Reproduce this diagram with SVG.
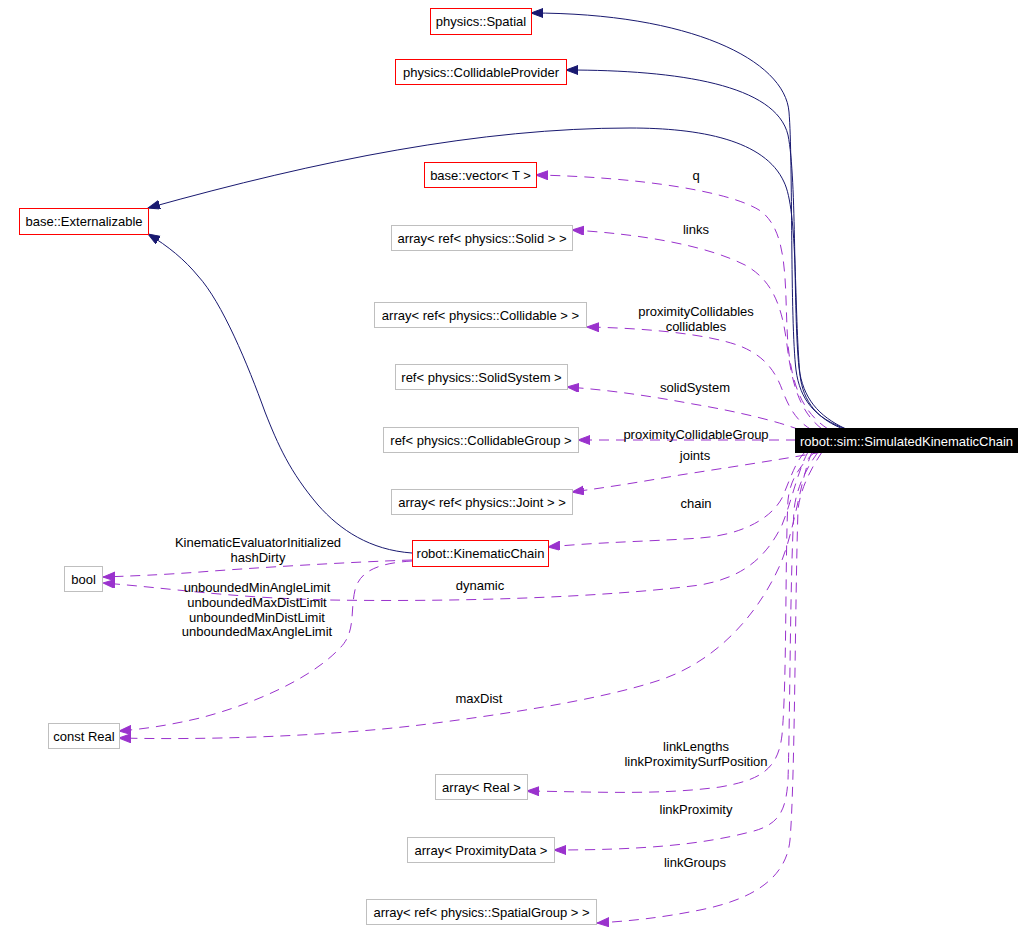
<svg xmlns="http://www.w3.org/2000/svg" width="1035" height="942" viewBox="0 0 1035 942">
<style>
text{font-family:"Liberation Sans",Arial,sans-serif;font-size:13px;fill:#000;text-anchor:middle}
.red{fill:#fff;stroke:#ff0000;stroke-width:1}
.grey{fill:#fff;stroke:#bfbfbf;stroke-width:1}
.inh{fill:none;stroke:#191970;stroke-width:1}
.use{fill:none;stroke:#9a32cd;stroke-width:1;stroke-dasharray:10,7}
</style>
<defs>
<marker id="an" markerUnits="userSpaceOnUse" markerWidth="13" markerHeight="10" refX="12" refY="4.5" orient="auto" viewBox="0 0 13 10">
<path d="M0,0 L12,4.5 L0,9 z" fill="#191970" stroke="#191970"/>
</marker>
<marker id="ap" markerUnits="userSpaceOnUse" markerWidth="13" markerHeight="10" refX="12" refY="4.5" orient="auto" viewBox="0 0 13 10">
<path d="M0,0 L12,4.5 L0,9 z" fill="#9a32cd" stroke="#9a32cd"/>
</marker>
</defs>
<rect width="1035" height="942" fill="#fff"/>
<g id="connectors">
<path class="inh" marker-end="url(#an)" d="M846,429 C815,418 800,400 796,370 C790,320 793,160 789,112 C785,60 690,13 531,13"/>
<path class="inh" marker-end="url(#an)" d="M846,429 C818,416 803,398 799,368 C793,310 797,180 788,135 C776,85 680,70 566,70"/>
<path class="inh" marker-end="url(#an)" d="M846,430 C818,420 803,402 800,375 C794,310 798,210 784,182 C765,140 700,128 630,128 C480,128 320,160 148,208"/>
<path class="inh" marker-end="url(#an)" d="M412,553 C370,550 340,530 318,505 C290,472 278,445 265,412 C248,365 222,302 198,276 C185,260 168,246 148,234"/>
<path class="use" marker-end="url(#ap)" d="M828,429 C802,412 792,385 788,345 C784,290 790,235 762,212 C735,192 640,177 536,175"/>
<path class="use" marker-end="url(#ap)" d="M822,429 C800,412 792,385 787,345 C782,305 772,280 745,265 C705,245 640,234 572,230"/>
<path class="use" marker-end="url(#ap)" d="M812,430 C796,421 789,407 783,392 C776,372 765,356 740,346 C705,333 640,328 587,327"/>
<path class="use" marker-end="url(#ap)" d="M800,430 C780,422 740,412 693,404 C650,396 610,390 567,387"/>
<path class="use" marker-end="url(#ap)" d="M796,440 L578,440"/>
<path class="use" marker-end="url(#ap)" d="M822,452 C790,458 725,468 680,475 C640,482 610,487 572,492"/>
<path class="use" marker-end="url(#ap)" d="M805,452 C795,462 790,480 782,498 C770,520 740,535 700,538 C660,541 600,542 548,547"/>
<path class="use" marker-end="url(#ap)" d="M412,560 C350,562 250,568 200,572 C160,575 130,576 103,577"/>
<path class="use" marker-end="url(#ap)" d="M808,452 C798,470 792,500 782,525 C765,560 740,578 700,585 C600,598 450,602 330,600 C230,598 170,588 103,583"/>
<path class="use" marker-end="url(#ap)" d="M412,561 C380,563 360,570 355,590 C350,612 356,632 340,648 C310,680 250,705 200,718 C170,725 145,729 119,731"/>
<path class="use" marker-end="url(#ap)" d="M812,452 C800,480 795,530 780,565 C760,610 720,660 660,680 C600,700 500,715 420,725 C320,737 200,740 119,738"/>
<path class="use" marker-end="url(#ap)" d="M815,452 C800,465 790,480 788,500 C785,560 787,680 782,735 C778,770 760,780 720,787 C660,795 600,792 527,791"/>
<path class="use" marker-end="url(#ap)" d="M818,452 C805,470 796,490 794,510 C790,580 790,720 788,780 C786,810 780,825 750,832 C700,845 640,850 554,850"/>
<path class="use" marker-end="url(#ap)" d="M822,452 C810,470 800,490 798,510 C795,600 795,780 790,840 C786,880 750,900 700,910 C660,918 630,921 597,923"/>
<text x="696" y="179.5">q</text>
<text x="696" y="234">links</text>
<text x="696" y="316">proximityCollidables</text>
<text x="696" y="331">collidables</text>
<text x="695" y="392">solidSystem</text>
<text x="696" y="439">proximityCollidableGroup</text>
<text x="695" y="460">joints</text>
<text x="696" y="508">chain</text>
<text x="258" y="547">KinematicEvaluatorInitialized</text>
<text x="258" y="562">hashDirty</text>
<text x="480" y="590">dynamic</text>
<text x="257" y="592">unboundedMinAngleLimit</text>
<text x="257" y="607">unboundedMaxDistLimit</text>
<text x="257" y="622">unboundedMinDistLimit</text>
<text x="257" y="636">unboundedMaxAngleLimit</text>
<text x="479" y="703">maxDist</text>
<text x="696" y="751">linkLengths</text>
<text x="696" y="766">linkProximitySurfPosition</text>
<text x="696" y="814">linkProximity</text>
<text x="695" y="867">linkGroups</text>
</g>
<g id="n_simkc"><rect x="795.5" y="428.5" width="222" height="24" fill="#000" stroke="#000"/><text x="906.5" y="445.5" style="fill:#fff">robot::sim::SimulatedKinematicChain</text></g>
<g id="n_spatial"><rect class="red" x="430.5" y="8.5" width="101" height="26"/><text x="481" y="26">physics::Spatial</text></g>
<g id="n_collprov"><rect class="red" x="395.5" y="59.5" width="171" height="25"/><text x="481" y="77">physics::CollidableProvider</text></g>
<g id="n_ext"><rect class="red" x="19.5" y="208.5" width="129" height="26"/><text x="84" y="226">base::Externalizable</text></g>
<g id="n_vector"><rect class="red" x="424.5" y="162.5" width="112" height="25"/><text x="480.5" y="180">base::vector&lt; T &gt;</text></g>
<g id="n_solids"><rect class="grey" x="391.5" y="225.5" width="181" height="25"/><text x="482" y="243">array&lt; ref&lt; physics::Solid &gt; &gt;</text></g>
<g id="n_colls"><rect class="grey" x="374.5" y="302.5" width="212" height="25"/><text x="480.5" y="320">array&lt; ref&lt; physics::Collidable &gt; &gt;</text></g>
<g id="n_solidsys"><rect class="grey" x="395.5" y="364.5" width="172" height="25"/><text x="481.5" y="382">ref&lt; physics::SolidSystem &gt;</text></g>
<g id="n_collgroup"><rect class="grey" x="383.5" y="427.5" width="195" height="25"/><text x="481" y="445">ref&lt; physics::CollidableGroup &gt;</text></g>
<g id="n_joints"><rect class="grey" x="391.5" y="489.5" width="181" height="25"/><text x="482" y="507">array&lt; ref&lt; physics::Joint &gt; &gt;</text></g>
<g id="n_kc"><rect class="red" x="412.5" y="540.5" width="136" height="26"/><text x="480.5" y="558">robot::KinematicChain</text></g>
<g id="n_bool"><rect class="grey" x="64.5" y="566.5" width="38" height="25"/><text x="83.5" y="584">bool</text></g>
<g id="n_real"><rect class="grey" x="48.5" y="723.5" width="71" height="25"/><text x="84" y="741">const Real</text></g>
<g id="n_areal"><rect class="grey" x="435.5" y="774.5" width="92" height="25"/><text x="481.5" y="792">array&lt; Real &gt;</text></g>
<g id="n_prox"><rect class="grey" x="407.5" y="837.5" width="147" height="25"/><text x="481" y="855">array&lt; ProximityData &gt;</text></g>
<g id="n_spgroup"><rect class="grey" x="366.5" y="899.5" width="230" height="25"/><text x="481.5" y="917">array&lt; ref&lt; physics::SpatialGroup &gt; &gt;</text></g>
</svg>
